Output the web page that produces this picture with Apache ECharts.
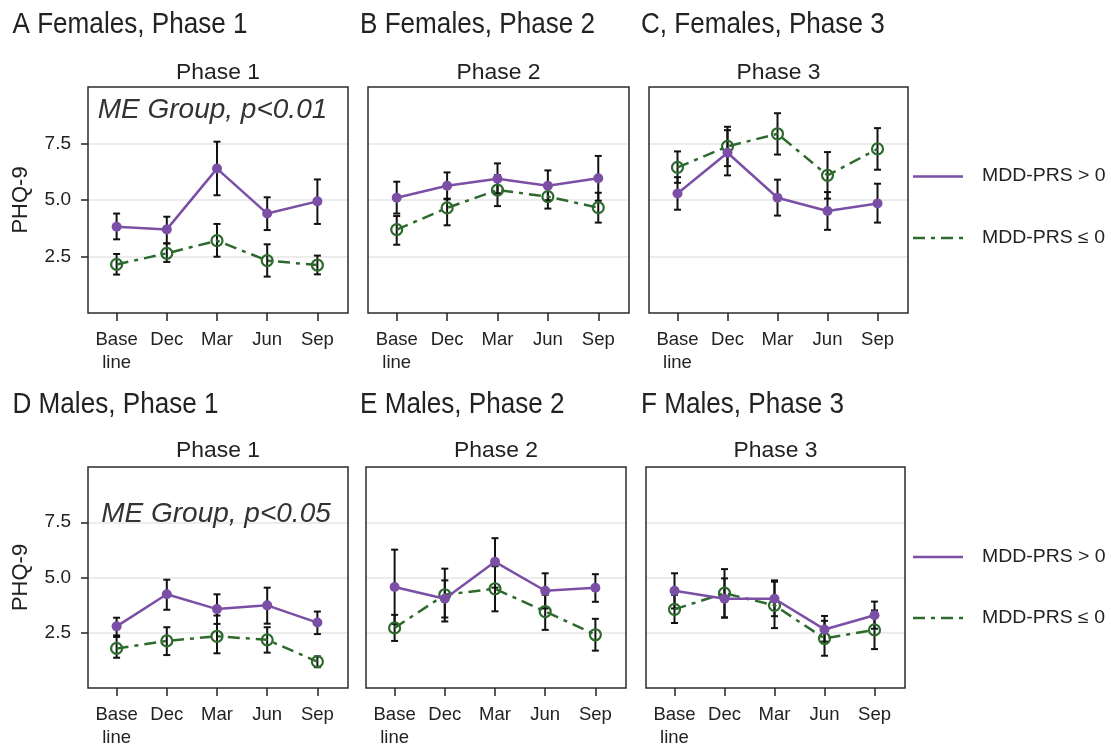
<!DOCTYPE html>
<html><head><meta charset="utf-8">
<script src="https://cdn.jsdelivr.net/npm/echarts@6/dist/echarts.min.js"></script>
<style>html,body{margin:0;padding:0;background:#fff}#c{width:1111px;height:749px}</style>
</head><body><div id="c"></div>
<script>
const categories = ['Base\nline', 'Dec', 'Mar', 'Jun', 'Sep'];
const yTicks = [2.5, 5.0, 7.5];
const groupNames = ['MDD-PRS > 0', 'MDD-PRS ≤ 0'];

// Panel A: Females, Phase 1
const A_pos_mean = [3.82, 3.70, 6.39, 4.40, 4.94];
const A_pos_lo   = [3.26, 3.08, 5.21, 3.67, 3.94];
const A_pos_hi   = [4.40, 4.26, 7.58, 5.12, 5.91];
const A_neg_mean = [2.15, 2.64, 3.20, 2.32, 2.12];
const A_neg_lo   = [1.70, 2.26, 2.49, 1.61, 1.71];
const A_neg_hi   = [2.61, 3.08, 3.94, 3.04, 2.54];
// Panel B: Females, Phase 2
const B_pos_mean = [5.10, 5.63, 5.94, 5.63, 5.96];
const B_pos_lo   = [4.40, 5.03, 5.30, 4.99, 4.97];
const B_pos_hi   = [5.81, 6.22, 6.62, 6.31, 6.95];
const B_neg_mean = [3.69, 4.65, 5.44, 5.15, 4.66];
const B_neg_lo   = [3.02, 3.88, 4.73, 4.62, 4.00];
const B_neg_hi   = [4.29, 5.06, 6.10, 5.68, 5.32];
// Panel C: Females, Phase 3
const C_pos_mean = [5.29, 7.09, 5.10, 4.51, 4.85];
const C_pos_lo   = [4.57, 6.09, 4.31, 3.68, 4.00];
const C_pos_hi   = [6.01, 8.09, 5.90, 5.35, 5.72];
const C_neg_mean = [6.44, 7.37, 7.93, 6.09, 7.26];
const C_neg_lo   = [5.76, 6.50, 7.01, 5.06, 6.34];
const C_neg_hi   = [7.15, 8.24, 8.84, 7.12, 8.18];
// Panel D: Males, Phase 1
const D_pos_mean = [2.79, 4.24, 3.57, 3.74, 2.96];
const D_pos_lo   = [2.31, 3.54, 2.90, 2.91, 2.44];
const D_pos_hi   = [3.18, 4.90, 4.24, 4.54, 3.46];
const D_neg_mean = [1.79, 2.13, 2.34, 2.18, 1.19];
const D_neg_lo   = [1.37, 1.49, 1.57, 1.60, 0.94];
const D_neg_hi   = [2.38, 2.75, 3.28, 2.75, 1.43];
// Panel E: Males, Phase 2
const E_pos_mean = [4.57, 4.04, 5.71, 4.40, 4.54];
const E_pos_lo   = [2.90, 3.01, 4.54, 3.60, 3.90];
const E_pos_hi   = [6.26, 5.40, 6.78, 5.19, 5.15];
const E_neg_mean = [2.72, 4.22, 4.49, 3.46, 2.41];
const E_neg_lo   = [2.13, 3.19, 3.47, 2.63, 1.69];
const E_neg_hi   = [3.31, 4.87, 5.51, 4.22, 3.13];
// Panel F: Males, Phase 3
const F_pos_mean = [4.40, 4.04, 4.04, 2.65, 3.29];
const F_pos_lo   = [3.60, 3.19, 3.25, 2.10, 2.68];
const F_pos_hi   = [5.19, 5.38, 4.87, 3.26, 3.91];
const F_neg_mean = [3.56, 4.29, 3.74, 2.24, 2.63];
const F_neg_lo   = [2.94, 3.19, 2.71, 1.46, 1.76];
const F_neg_hi   = [4.22, 4.96, 4.81, 3.04, 3.51];

const panelTitles = ['A Females, Phase 1', 'B Females, Phase 2', 'C, Females, Phase 3',
                     'D Males, Phase 1', 'E Males, Phase 2', 'F Males, Phase 3'];
const subTitles = ['Phase 1', 'Phase 2', 'Phase 3', 'Phase 1', 'Phase 2', 'Phase 3'];
const annotations = ['ME Group, p<0.01', '', '', 'ME Group, p<0.05', '', ''];

const panels = [
  [A_pos_mean, A_pos_lo, A_pos_hi, A_neg_mean, A_neg_lo, A_neg_hi],
  [B_pos_mean, B_pos_lo, B_pos_hi, B_neg_mean, B_neg_lo, B_neg_hi],
  [C_pos_mean, C_pos_lo, C_pos_hi, C_neg_mean, C_neg_lo, C_neg_hi],
  [D_pos_mean, D_pos_lo, D_pos_hi, D_neg_mean, D_neg_lo, D_neg_hi],
  [E_pos_mean, E_pos_lo, E_pos_hi, E_neg_mean, E_neg_lo, E_neg_hi],
  [F_pos_mean, F_pos_lo, F_pos_hi, F_neg_mean, F_neg_lo, F_neg_hi]
];

const PURPLE = '#7b4fa6';
const GREEN = '#2d6a2d';
const DASH = [12, 6, 4, 6];
const FONT = 'Liberation Sans, Arial, sans-serif';

const gridRects = [
  {left: 88, top: 87, width: 260, height: 226},
  {left: 368, top: 87, width: 261, height: 226},
  {left: 649, top: 87, width: 259, height: 226},
  {left: 88, top: 467, width: 260, height: 225},
  {left: 366, top: 467, width: 260, height: 225},
  {left: 646, top: 467, width: 259, height: 225}
];

const grids = [], xAxes = [], yAxes = [], series = [], graphics = [];

function errRender(params, api) {
  const x = api.value(0), lo = api.value(1), hi = api.value(2);
  const a = api.coord([x, lo]), b = api.coord([x, hi]);
  const w = 3.5, st = {stroke: '#111', lineWidth: 2};
  return {type: 'group', children: [
    {type: 'line', shape: {x1: a[0], y1: a[1], x2: b[0], y2: b[1]}, style: st},
    {type: 'line', shape: {x1: a[0] - w, y1: a[1], x2: a[0] + w, y2: a[1]}, style: st},
    {type: 'line', shape: {x1: b[0] - w, y1: b[1], x2: b[0] + w, y2: b[1]}, style: st}
  ]};
}

gridRects.forEach((g, i) => {
  const firstCol = (i % 3 === 0);
  grids.push(Object.assign({show: true, borderColor: '#2b2b2b', borderWidth: 1.5, backgroundColor: 'transparent', z: 3}, g));
  xAxes.push({
    gridIndex: i, type: 'value', min: -0.57, max: 4.61,
    axisLine: {show: false, onZero: false}, splitLine: {show: false},
    axisTick: {show: true, customValues: [0, 1, 2, 3, 4], length: 8, lineStyle: {color: '#222', width: 1.5}},
    axisLabel: {show: true, customValues: [0, 1, 2, 3, 4], margin: 15, fontSize: 18.5, lineHeight: 23,
      color: '#222', fontFamily: FONT, formatter: v => categories[Math.round(v)]}
  });
  yAxes.push({
    gridIndex: i, type: 'value', min: 0, max: 10, interval: 2.5,
    axisLine: {show: false, onZero: false},
    splitLine: {show: true, lineStyle: {color: '#e6e6e6', width: 1.5}},
    axisTick: {show: firstCol, customValues: yTicks, length: 7, lineStyle: {color: '#222', width: 1.5}},
    axisLabel: {show: firstCol, customValues: yTicks, margin: 17, fontSize: 19, color: '#222', fontFamily: FONT,
      formatter: v => v.toFixed(1)},
    name: firstCol ? 'PHQ-9' : '', nameLocation: 'middle', nameRotate: 90, nameGap: 56,
    nameTextStyle: {fontSize: 22, color: '#222', fontFamily: FONT}
  });
  const d = panels[i];
  const pos = categories.map((c, k) => [k, d[0][k]]);
  const neg = categories.map((c, k) => [k, d[3][k]]);
  const posErr = categories.map((c, k) => [k, d[1][k], d[2][k]]);
  const negErr = categories.map((c, k) => [k, d[4][k], d[5][k]]);
  series.push({type: 'custom', xAxisIndex: i, yAxisIndex: i, renderItem: errRender, data: negErr, encode: {x: 0, y: [1, 2]}, z: 4, silent: true});
  series.push({type: 'custom', xAxisIndex: i, yAxisIndex: i, renderItem: errRender, data: posErr, encode: {x: 0, y: [1, 2]}, z: 4, silent: true});
  series.push({name: groupNames[1], type: 'line', xAxisIndex: i, yAxisIndex: i, data: neg, z: 5,
    symbol: 'circle', symbolSize: 11,
    lineStyle: {color: GREEN, width: 2.5, type: DASH},
    itemStyle: {color: 'rgba(0,0,0,0)', borderColor: GREEN, borderWidth: 2.2}, animation: false});
  series.push({name: groupNames[0], type: 'line', xAxisIndex: i, yAxisIndex: i, data: pos, z: 6,
    symbol: 'circle', symbolSize: 10,
    lineStyle: {color: PURPLE, width: 2.5},
    itemStyle: {color: PURPLE}, animation: false});

  // texts
  const topRow = i < 3;
  const titleX = [12.5, 360, 641][i % 3];
  graphics.push({type: 'text', x: titleX, y: topRow ? 24.7 : 404.5, scaleX: 0.87,
    style: {text: panelTitles[i], fontSize: 30, fill: '#222', fontFamily: FONT, verticalAlign: 'middle'}});
  graphics.push({type: 'text', x: g.left + g.width / 2, y: topRow ? 72.5 : 451, scaleX: 1.04,
    style: {text: subTitles[i], fontSize: 22, fill: '#222', fontFamily: FONT, align: 'center', verticalAlign: 'middle'}});
  if (annotations[i]) {
    graphics.push({type: 'text', x: topRow ? 212.5 : 216, y: topRow ? 110 : 514, z: 10,
      style: {text: annotations[i], fontSize: 28, fontStyle: 'italic', fill: '#333', fontFamily: FONT, align: 'center', verticalAlign: 'middle'}});
  }
});

// legends (one per row)
[[176.5, 238], [557, 618]].forEach(([y1, y2]) => {
  graphics.push({type: 'line', shape: {x1: 913, y1: y1, x2: 963, y2: y1}, style: {stroke: PURPLE, lineWidth: 2.5}});
  graphics.push({type: 'text', x: 982, y: y1, scaleX: 1.08, style: {text: groupNames[0], fontSize: 18, fill: '#222', fontFamily: FONT, verticalAlign: 'middle'}});
  graphics.push({type: 'line', shape: {x1: 913, y1: y2, x2: 963, y2: y2}, style: {stroke: GREEN, lineWidth: 2.5, lineDash: DASH}});
  graphics.push({type: 'text', x: 982, y: y2, scaleX: 1.08, style: {text: groupNames[1], fontSize: 18, fill: '#222', fontFamily: FONT, verticalAlign: 'middle'}});
});

const chart = echarts.init(document.getElementById('c'), null, {renderer: 'canvas'});
chart.setOption({
  animation: false,
  backgroundColor: '#fff',
  grid: grids, xAxis: xAxes, yAxis: yAxes, series: series,
  graphic: graphics
});
</script>
</body></html>
